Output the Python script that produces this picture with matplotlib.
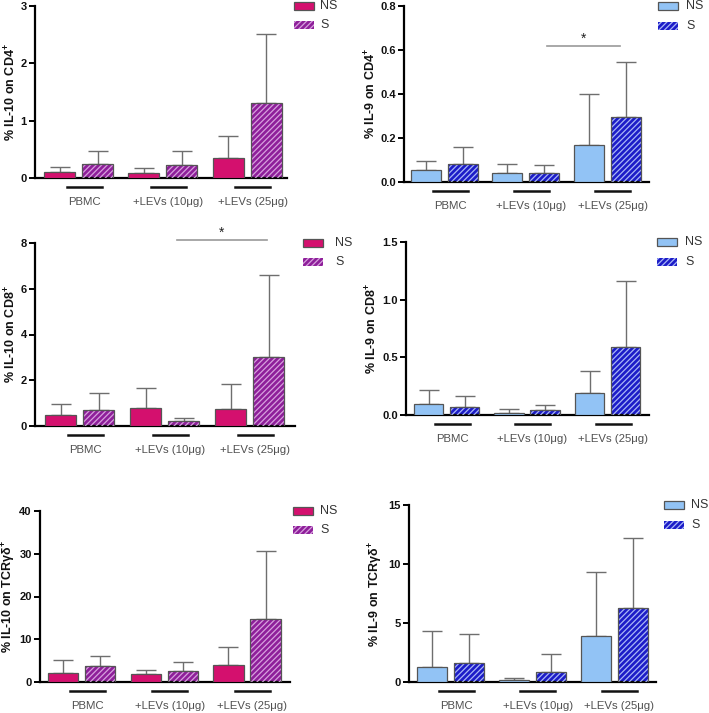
import matplotlib
matplotlib.use("Agg")
import matplotlib.pyplot as plt
from matplotlib.patches import Rectangle
from matplotlib.lines import Line2D
from matplotlib.transforms import ScaledTranslation

plt.rcParams['font.family'] = ['Liberation Sans', 'DejaVu Sans']
plt.rcParams['mathtext.fontset'] = 'custom'
plt.rcParams['mathtext.rm'] = 'Liberation Sans:bold'
plt.rcParams['mathtext.it'] = 'Liberation Sans:bold'
plt.rcParams['mathtext.bf'] = 'Liberation Sans:bold'
plt.rcParams['hatch.linewidth'] = 0.9

W, H = 709, 713
groups = ["PBMC", "+LEVs (10\u03bcg)", "+LEVs (25\u03bcg)"]
series = ["NS", "S"]

# Panel data: mean (bar) and upper error
il10_cd4_ns = [0.105, 0.093, 0.355]
il10_cd4_ns_err = [0.19, 0.18, 0.74]
il10_cd4_s = [0.25, 0.23, 1.31]
il10_cd4_s_err = [0.47, 0.47, 2.51]

il9_cd4_ns = [0.053, 0.041, 0.17]
il9_cd4_ns_err = [0.095, 0.082, 0.40]
il9_cd4_s = [0.082, 0.041, 0.295]
il9_cd4_s_err = [0.158, 0.076, 0.547]

il10_cd8_ns = [0.47, 0.80, 0.76]
il10_cd8_ns_err = [0.96, 1.68, 1.85]
il10_cd8_s = [0.69, 0.22, 3.03]
il10_cd8_s_err = [1.44, 0.34, 6.62]

il9_cd8_ns = [0.095, 0.02, 0.19]
il9_cd8_ns_err = [0.22, 0.052, 0.383]
il9_cd8_s = [0.069, 0.04, 0.59]
il9_cd8_s_err = [0.164, 0.089, 1.163]

il10_tcr_ns = [2.1, 1.94, 4.04]
il10_tcr_ns_err = [5.2, 2.72, 8.16]
il10_tcr_s = [3.65, 2.56, 14.76]
il10_tcr_s_err = [6.06, 4.66, 30.76]

il9_tcr_ns = [1.30, 0.17, 3.88]
il9_tcr_ns_err = [4.36, 0.37, 9.31]
il9_tcr_s = [1.64, 0.82, 6.31]
il9_tcr_s_err = [4.05, 2.38, 12.23]

ylabels = ['% IL-10 on CD4$^{+}$', '% IL-9 on CD4$^{+}$',
           '% IL-10 on CD8$^{+}$', '% IL-9 on CD8$^{+}$',
           '% IL-10 on TCR\u03b3\u03b4$^{+}$', '% IL-9 on TCR\u03b3\u03b4$^{+}$']
yticks = [[0, 1, 2, 3], [0.0, 0.2, 0.4, 0.6, 0.8], [0, 2, 4, 6, 8],
          [0.0, 0.5, 1.0, 1.5], [0, 10, 20, 30, 40], [0, 5, 10, 15]]
yfmt = ["{:.0f}", "{:.1f}", "{:.0f}", "{:.1f}", "{:.0f}", "{:.0f}"]

# significance annotations: panel index, x from, x to (group units), y value
sig_panels = [1, 2]
sig_from = [1.265, 1.15]
sig_to = [2.16, 2.2]
sig_y = [0.618, 8.12]

magenta = "#D4106E"
purple = "#8E1F9A"
purple_hatch = "#D7A0DE"
lightblue = "#92C3F5"
darkblue = "#1C1CC8"
blue_hatch = "#A9B6F6"

panels = [
    dict(ns=il10_cd4_ns, nse=il10_cd4_ns_err, s=il10_cd4_s, se=il10_cd4_s_err,
         box=(35, 287, 6, 178), g1=78.5, sp=84.25, bw=31, off=19,
         c=(magenta, purple, purple_hatch), ylx=11, leg=(294, 6, 25, 320)),
    dict(ns=il9_cd4_ns, nse=il9_cd4_ns_err, s=il9_cd4_s, se=il9_cd4_s_err,
         box=(404, 649, 6, 182), g1=444.5, sp=81.25, bw=30, off=18.5,
         c=(lightblue, darkblue, blue_hatch), ylx=371, leg=(658, 6, 26, 686)),
    dict(ns=il10_cd8_ns, nse=il10_cd8_ns_err, s=il10_cd8_s, se=il10_cd8_s_err,
         box=(35, 295, 243, 426), g1=79.5, sp=85, bw=31.5, off=19,
         c=(magenta, purple, purple_hatch), ylx=11, leg=(303, 243, 262, 335)),
    dict(ns=il9_cd8_ns, nse=il9_cd8_ns_err, s=il9_cd8_s, se=il9_cd8_s_err,
         box=(406, 649, 242, 415), g1=446.5, sp=80.5, bw=29.5, off=18,
         c=(lightblue, darkblue, blue_hatch), ylx=372, leg=(657, 242, 262, 685)),
    dict(ns=il10_tcr_ns, nse=il10_tcr_ns_err, s=il10_tcr_s, se=il10_tcr_s_err,
         box=(40, 290, 511, 682), g1=81.5, sp=82.75, bw=30.5, off=18.5,
         c=(magenta, purple, purple_hatch), ylx=9, leg=(293, 511, 530, 320)),
    dict(ns=il9_tcr_ns, nse=il9_tcr_ns_err, s=il9_tcr_s, se=il9_tcr_s_err,
         box=(409, 656, 505, 682), g1=450.5, sp=81.75, bw=30, off=18.5,
         c=(lightblue, darkblue, blue_hatch), ylx=376, leg=(664, 505, 525, 691)),
]

fig = plt.figure(figsize=(W / 100, H / 100), dpi=100)
edge = "#555555"
errc = "#6E6E6E"
tcol = "#505050"
HATCH = "//////"


def hatched_bar(ax, x, h, w, face, hcol):
    ax.bar(x, h, w, color=face, edgecolor="none", linewidth=0, zorder=2)
    ax.bar(x, h, w, facecolor="none", edgecolor=hcol, hatch=HATCH, linewidth=0, zorder=3)
    ax.bar(x, h, w, facecolor="none", edgecolor=edge, linewidth=0.9, zorder=4)


for i, p in enumerate(panels):
    l, r, t, b = p["box"]
    ax = fig.add_axes([l / W, 1 - b / H, (r - l) / W, (b - t) / H])
    sp = p["sp"]
    xlo = -(p["g1"] - l) / sp
    xhi = (r - p["g1"]) / sp
    ax.set_xlim(xlo, xhi)
    ymax = yticks[i][-1]
    ax.set_ylim(0, ymax)
    bw = p["bw"] / sp
    off = p["off"] / sp
    xs = list(range(len(groups)))
    face_ns, face_s, hcol = p["c"]
    ns_x = [x - off for x in xs]
    s_x = [x + off for x in xs]
    ax.bar(ns_x, p["ns"], bw, color=face_ns, edgecolor=edge, linewidth=0.9, zorder=3)
    hatched_bar(ax, s_x, p["s"], bw, face_s, hcol)
    for xx, v, e in list(zip(ns_x, p["ns"], p["nse"])) + list(zip(s_x, p["s"], p["se"])):
        ax.errorbar([xx], [v], yerr=[[0], [e - v]], fmt="none", ecolor=errc,
                    elinewidth=1.0, capsize=7, capthick=1.0, zorder=1)
    for sname in ["top", "right"]:
        ax.spines[sname].set_visible(False)
    ax.spines["left"].set_linewidth(1.6)
    ax.spines["bottom"].set_linewidth(1.6)
    ax.set_yticks(yticks[i])
    ax.set_yticklabels([yfmt[i].format(v) for v in yticks[i]], fontweight="bold",
                       fontsize=8, color="#111111")
    ax.tick_params(axis="y", length=4, width=1.4, pad=2)
    ax.set_xticks([])
    for g, name in zip(xs, groups):
        cx = g + 5.5 / sp
        half = 17.5 / sp
        ax.add_line(Line2D([cx - half, cx + half], [0, 0], color="#111111", lw=1.8,
                           transform=ax.get_xaxis_transform() + ScaledTranslation(0, -9 / 100, fig.dpi_scale_trans),
                           clip_on=False))
        ax.text(cx, 0, name, transform=ax.get_xaxis_transform() + ScaledTranslation(0, -24 / 100, fig.dpi_scale_trans),
                ha="center", va="center", fontsize=8.2, color=tcol)
    fig.text(p["ylx"] / W, 1 - ((t + b) / 2) / H, ylabels[i], rotation=90,
             ha="center", va="center", fontsize=9, fontweight="bold", color="#111111")
    lx, ly1, ly2, ltx = p["leg"]
    for k, (yy, lab) in enumerate([(ly1, "NS"), (ly2, "S")]):
        fx = lx / W
        fy = 1 - (yy + 4) / H
        fw = 20 / W
        fh = 8 / H
        if k == 0:
            fig.patches.append(Rectangle((fx, fy), fw, fh, transform=fig.transFigure,
                                         facecolor=face_ns, edgecolor=edge, lw=0.9))
        else:
            fig.patches.append(Rectangle((fx, fy), fw, fh, transform=fig.transFigure,
                                         facecolor=face_s, edgecolor="none", lw=0))
            fig.patches.append(Rectangle((fx, fy), fw, fh, transform=fig.transFigure,
                                         facecolor="none", edgecolor=hcol, hatch=HATCH, lw=0))
        fig.text(ltx / W, 1 - yy / H, lab, ha="left", va="center", fontsize=9, color="#333333")

for pi, x0, x1, yv in zip(sig_panels, sig_from, sig_to, sig_y):
    ax = fig.axes[pi]
    ax.plot([x0, x1], [yv, yv], color="#999999", lw=1.2, clip_on=False, zorder=5)
    ax.text((x0 + x1) / 2, yv, "*", ha="center", va="bottom", fontsize=10,
            color="#222222", clip_on=False)

fig.savefig("out.png", dpi=100)
